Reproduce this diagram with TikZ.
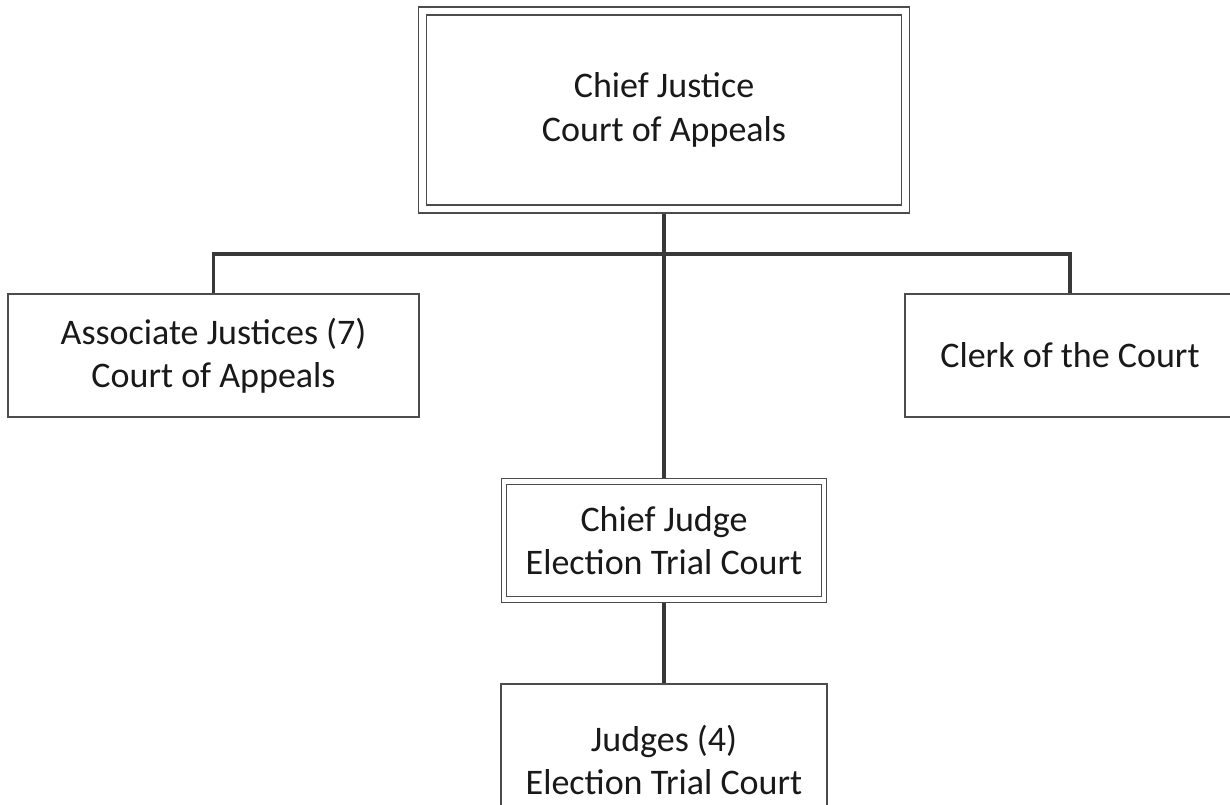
\documentclass[tikz,border=0pt]{standalone}
\usepackage{fontspec}
\setmainfont{Carlito}
\usetikzlibrary{backgrounds}

\begin{document}
\begin{tikzpicture}[x=0.5pt, y=-0.5pt,
    box/.style={draw=black!70, line width=0.6pt, fill=white, text=black!90, align=center, inner sep=0pt, font=\fontsize{18}{21.7}\selectfont},
    dbox/.style={box, double=white, double distance=#1},
    link/.style={draw=black!78, line width=1.6pt}]
      \useasboundingbox (0,0) rectangle (1230,804);
      \node[dbox=3.4pt, minimum width=241.5pt, minimum height=99pt] (justice) at (664,110) {Chief Justice\\Court of Appeals};
      \node[box, minimum width=205.5pt, minimum height=61.5pt] (assoc) at (213.5,355.5) {Associate Justices (7)\\Court of Appeals};
      \node[box, minimum width=165pt, minimum height=61.5pt] (clerk) at (1070,355.5) {Clerk of the Court};
      \node[dbox=2.2pt, minimum width=160pt, minimum height=59pt] (cjudge) at (664,540.5) {Chief Judge\\Election Trial Court};
      \node[box, minimum width=163pt, minimum height=76pt] (judges) at (664,760) {Judges (4)\\Election Trial Court};
      \coordinate (fork) at (664,254);
      \begin{scope}[on background layer]
        \draw[link] (justice.south) -- (cjudge.north);
        \draw[link] (assoc.north) |- (fork) -| (clerk.north);
        \draw[link] (cjudge.south) -- (judges.north);
      \end{scope}
    \end{tikzpicture}
\end{document}
